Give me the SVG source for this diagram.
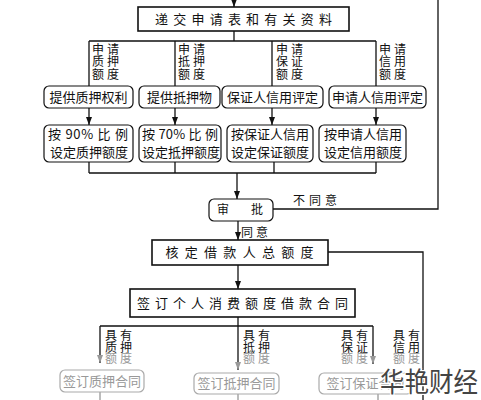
<svg xmlns="http://www.w3.org/2000/svg" width="481" height="400" viewBox="0 0 481 400">
<style>
text{font-family:"Noto Sans CJK SC","Noto Sans",sans-serif;fill:#111}
.box{fill:#fff;stroke:#111;stroke-width:1.6}
.rbox{fill:#fff;stroke:#111;stroke-width:1.2}
.gbox{fill:#fff;stroke:#aaa;stroke-width:1.2}
.t13{font-size:13px}
.t12{font-size:12px}
.lab{font-size:12px;letter-spacing:3px}
.gray{fill:#999}
.ln{fill:none;stroke:#111;stroke-width:1.3}
.gln{fill:none;stroke:#999;stroke-width:1.3}
.wm{font-size:27px;fill:#444;stroke:#fff;stroke-width:2.5;paint-order:stroke}
</style>
<defs>
<marker id="ah" markerUnits="userSpaceOnUse" markerWidth="8" markerHeight="6" refX="8" refY="3" orient="auto"><path d="M0,0 L8,3 L0,6 z" fill="#111"/></marker>
<marker id="gah" markerUnits="userSpaceOnUse" markerWidth="8" markerHeight="6" refX="8" refY="3" orient="auto"><path d="M0,0 L8,3 L0,6 z" fill="#999"/></marker>
</defs>
<g id="connectors">
<line class="ln" x1="234" y1="0" x2="234" y2="7" marker-end="url(#ah)"/>
<path class="ln" d="M234,31 V41 M89,41 H376 M89,41 V86 M175,41 V86 M272,41 V86 M376,41 V86"/>
<line class="ln" x1="89" y1="108" x2="89" y2="125" marker-end="url(#ah)"/>
<line class="ln" x1="175" y1="108" x2="175" y2="125" marker-end="url(#ah)"/>
<line class="ln" x1="272" y1="108" x2="272" y2="125" marker-end="url(#ah)"/>
<line class="ln" x1="376" y1="108" x2="376" y2="125" marker-end="url(#ah)"/>
<path class="ln" d="M89,162 V173 M175,162 V173 M274,162 V173 M376,162 V173 M89,173 H376"/>
<line class="ln" x1="237" y1="173" x2="237" y2="199" marker-end="url(#ah)"/>
<path class="ln" d="M273,209 H438 V0"/>
<line class="ln" x1="238" y1="221" x2="238" y2="240" marker-end="url(#ah)"/>
<path class="ln" d="M328,252 H423 V400"/>
<line class="ln" x1="238" y1="265" x2="238" y2="289" marker-end="url(#ah)"/>
<path class="ln" d="M238,317 V326 M100,326 H373"/>
<line class="ln" x1="100" y1="326" x2="100" y2="363" marker-end="url(#gah)"/>
<line class="ln" x1="238" y1="326" x2="238" y2="370" marker-end="url(#gah)"/>
<line class="ln" x1="373" y1="326" x2="373" y2="364" marker-end="url(#gah)"/>
<path class="gln" d="M100,392 V400 M238,394 V400 M378,394 V400"/>
</g>
<g id="n-submit"><rect class="box" x="138" y="7" width="211" height="24"/><text class="t13" x="243.5" y="24" text-anchor="middle" textLength="177" lengthAdjust="spacing">递交申请表和有关资料</text></g>
<g id="l1"><text class="lab"><tspan x="92" y="53.5">申请</tspan><tspan x="92" y="66">质押</tspan><tspan x="92" y="78.5">额度</tspan></text></g>
<g id="l2"><text class="lab"><tspan x="178" y="53.5">申请</tspan><tspan x="178" y="66">抵押</tspan><tspan x="178" y="78.5">额度</tspan></text></g>
<g id="l3"><text class="lab"><tspan x="276" y="53.5">申请</tspan><tspan x="276" y="66">保证</tspan><tspan x="276" y="78.5">额度</tspan></text></g>
<g id="l4"><text class="lab"><tspan x="379" y="53.5">申请</tspan><tspan x="379" y="66">信用</tspan><tspan x="379" y="78.5">额度</tspan></text></g>
<g id="n-a1"><rect class="rbox" x="44" y="86" width="89" height="22" rx="5"/><text class="t13" x="88.5" y="101.5" text-anchor="middle">提供质押权利</text></g>
<g id="n-a2"><rect class="rbox" x="139" y="86" width="81" height="22" rx="5"/><text class="t13" x="179.5" y="101.5" text-anchor="middle">提供抵押物</text></g>
<g id="n-a3"><rect class="rbox" x="222" y="86" width="101" height="22" rx="5"/><text class="t13" x="272.5" y="101.5" text-anchor="middle">保证人信用评定</text></g>
<g id="n-a4"><rect class="rbox" x="329" y="86" width="97" height="22" rx="5"/><text class="t13" x="377.5" y="101.5" text-anchor="middle">申请人信用评定</text></g>
<g id="n-b1"><rect class="rbox" x="44" y="125" width="89" height="37" rx="5"/><text class="t13" x="48" y="139" textLength="80" lengthAdjust="spacing" xml:space="preserve">按 90% 比 例</text><text class="t13" x="50" y="157">设定质押额度</text></g>
<g id="n-b2"><rect class="rbox" x="139" y="125" width="82" height="37" rx="5"/><text class="t13" x="142" y="139" textLength="76" lengthAdjust="spacing" xml:space="preserve">按 70% 比 例</text><text class="t13" x="142" y="157">设定抵押额度</text></g>
<g id="n-b3"><rect class="rbox" x="227" y="125" width="86" height="37" rx="5"/><text class="t13" x="231" y="139">按保证人信用</text><text class="t13" x="231" y="157">设定保证额度</text></g>
<g id="n-b4"><rect class="rbox" x="319" y="125" width="87" height="37" rx="5"/><text class="t13" x="324" y="139">按申请人信用</text><text class="t13" x="324" y="157">设定信用额度</text></g>
<g id="n-review"><rect class="rbox" x="209" y="199" width="64" height="22" rx="5"/><text class="t12" x="217" y="213.5">审</text><text class="t12" x="251" y="213.5">批</text></g>
<text class="t12" x="293" y="204.5" letter-spacing="4">不同意</text>
<text class="t12" x="241" y="236.5" letter-spacing="3">同意</text>
<g id="n-total"><rect class="box" x="152" y="240" width="176" height="25"/><text class="t13" x="239.5" y="257" text-anchor="middle" textLength="148" lengthAdjust="spacing">核定借款人总额度</text></g>
<g id="n-contract"><rect class="box" x="130" y="289" width="225" height="28"/><text class="t13" x="242.5" y="307.5" text-anchor="middle" textLength="211" lengthAdjust="spacing">签订个人消费额度借款合同</text></g>
<g id="m1"><text class="lab"><tspan x="105" y="339.5">具有</tspan><tspan x="105" y="351.5">质押</tspan><tspan x="105" y="363" class="gray">额度</tspan></text></g>
<g id="m2"><text class="lab"><tspan x="243" y="339.5">具有</tspan><tspan x="243" y="351.5">抵押</tspan><tspan x="243" y="363" class="gray">额度</tspan></text></g>
<g id="m3"><text class="lab"><tspan x="341" y="339.5">具有</tspan><tspan x="341" y="351.5">保证</tspan><tspan x="341" y="363" class="gray">额度</tspan></text></g>
<g id="m4"><text class="lab"><tspan x="393" y="339.5">具有</tspan><tspan x="393" y="351.5">信用</tspan><tspan x="393" y="363" class="gray">额度</tspan></text></g>
<g id="n-c1"><rect class="gbox" x="60" y="370" width="84" height="22" rx="5"/><text class="t13 gray" x="102" y="385.5" text-anchor="middle">签订质押合同</text></g>
<g id="n-c2"><rect class="gbox" x="194" y="373" width="85" height="21" rx="5"/><text class="t13 gray" x="236.5" y="388" text-anchor="middle">签订抵押合同</text></g>
<g id="n-c3"><rect class="gbox" x="319" y="373" width="93" height="21" rx="5"/><text class="t13 gray" x="365.5" y="388" text-anchor="middle">签订保证合同</text></g>
<text class="wm" x="380" y="392" textLength="98" lengthAdjust="spacingAndGlyphs">华艳财经</text>
</svg>
